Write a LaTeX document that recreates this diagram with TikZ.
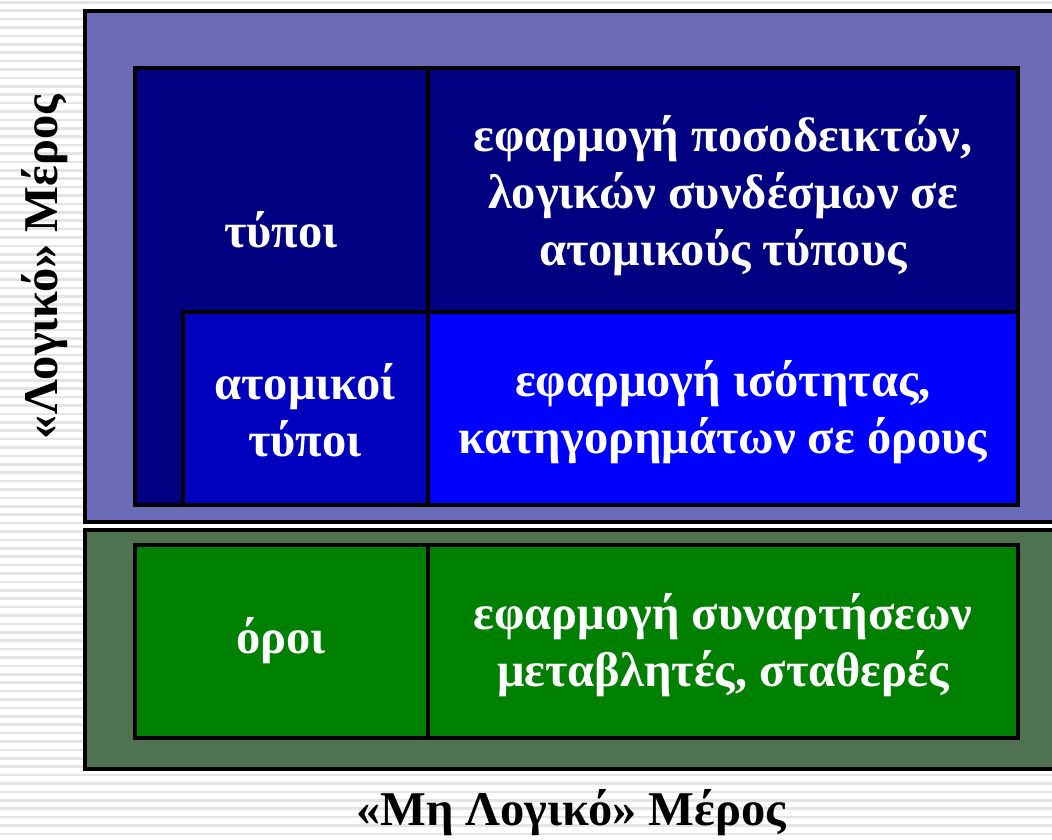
\documentclass[tikz,border=0pt]{standalone}
\usepackage{fontspec}
\setmainfont{Liberation Serif}
\definecolor{bgstripe}{HTML}{E4E4E4}
\definecolor{outerblue}{HTML}{6B6BB8}
\definecolor{outergreen}{HTML}{4F7350}
\definecolor{navy}{HTML}{000080}
\definecolor{atomblue}{HTML}{0000BE}
\definecolor{brightblue}{HTML}{0000FF}
\definecolor{darkgreen}{HTML}{008000}
\tikzset{
  box/.style={draw=black, line width=4pt},
  wtext/.style={text=white, font=\fontsize{48.5}{57}\selectfont\bfseries, align=center, inner sep=0pt},
  btext/.style={text=black, font=\fontsize{48.5}{57}\selectfont\bfseries, inner sep=0pt}
}
\begin{document}
\begin{tikzpicture}[x=1pt,y=-1pt]
\useasboundingbox (0,0) rectangle (1052,840);
\clip (0,0) rectangle (1052,840);
\fill[white] (0,0) rectangle (1052,840);
\foreach \k in {0,...,100} {
  \fill[bgstripe] (0,{\k*8.4+1}) rectangle (1052,{\k*8.4+3.6});
}
% outer regions
\fill[outerblue] (85,11) rectangle (1060,522);
\draw[box, line width=3.5pt] (85,11) rectangle (1060,522);
\fill[outergreen] (85,530) rectangle (1060,769);
\draw[box, line width=3.5pt] (85,530) rectangle (1060,769);
% inner blue block
\fill[navy] (135,68) rectangle (1018,505);
\fill[atomblue] (183,312) rectangle (428,505);
\fill[brightblue] (428,312) rectangle (1018,505);
\draw[box] (135,68) rectangle (1018,505);
\draw[box] (428,68) -- (428,505);
\draw[box] (183,505) -- (183,312) -- (1018,312);
% inner green block
\fill[darkgreen] (135,545) rectangle (1018,738);
\draw[box] (135,545) rectangle (1018,738);
\draw[box] (428,545) -- (428,738);
% texts
\node[wtext] (typoi) at (281,230) {τύποι};
\node[wtext] (quant) at (723,196) {εφαρμογή ποσοδεικτών,\\λογικών συνδέσμων σε\\ατομικούς τύπους};
\node[wtext] (atom) at (305,410) {ατομικοί\\τύποι};
\node[wtext] (eq) at (723,412) {εφαρμογή ισότητας,\\κατηγορημάτων σε όρους};
\node[wtext] (oroi) at (281,641) {όροι};
\node[wtext] (func) at (723,645) {εφαρμογή συναρτήσεων\\μεταβλητές, σταθερές};
\node[btext, rotate=90] (logic) at (45,267) {«Λογικό» Μέρος};
\node[btext] (nonlogic) at (571,813) {«Μη Λογικό» Μέρος};
\end{tikzpicture}
\end{document}
